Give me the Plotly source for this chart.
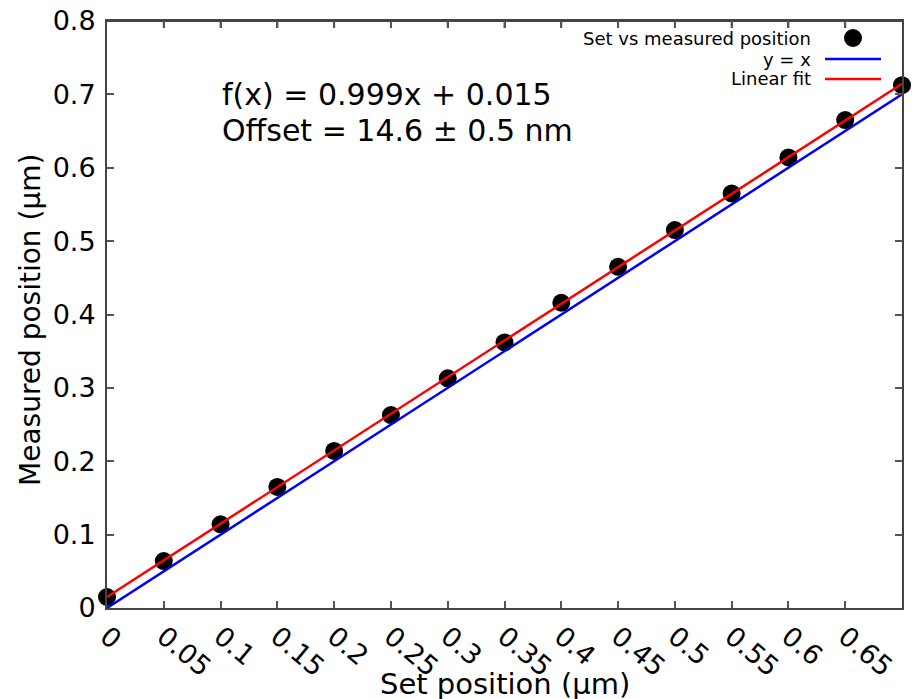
import plotly.graph_objects as go

# ---- data ----
set_position = [0.0, 0.05, 0.10, 0.15, 0.20, 0.25, 0.30, 0.35, 0.40, 0.45, 0.50, 0.55, 0.60, 0.65, 0.70]
measured_position = [0.015, 0.064, 0.114, 0.165, 0.214, 0.263, 0.313, 0.362, 0.416, 0.465, 0.515, 0.565, 0.614, 0.665, 0.7125]
fit_slope = 0.999
fit_intercept = 0.015
line_x = [0.0, 0.7]

x_tickvals = [0, 0.05, 0.1, 0.15, 0.2, 0.25, 0.3, 0.35, 0.4, 0.45, 0.5, 0.55, 0.6, 0.65]
x_ticktext = ["0", "0.05", "0.1", "0.15", "0.2", "0.25", "0.3", "0.35", "0.4", "0.45", "0.5", "0.55", "0.6", "0.65"]
y_tickvals = [0, 0.1, 0.2, 0.3, 0.4, 0.5, 0.6, 0.7, 0.8]
y_ticktext = ["0", "0.1", "0.2", "0.3", "0.4", "0.5", "0.6", "0.7", "0.8"]

legend_names = ["Set vs measured position", "y = x", "Linear fit"]
fit_label = "f(x) = 0.999x + 0.015"
offset_label = "Offset = 14.6 ± 0.5 nm"
x_title = "Set position (µm)"
y_title = "Measured position (µm)"

FONT = "DejaVu Sans"
W, H = 916, 699
PL, PR, PT, PB = 107, 902, 21, 608   # plot area in window pixels
L, T, R, B = PL, PT, W - PR, H - PB
pw = PR - PL
ph = PB - PT


def px(xp):
    return (xp - PL) / pw


def py(yp):
    return (PB - yp) / ph


fig = go.Figure()
fig.add_trace(go.Scatter(x=set_position, y=measured_position, mode="markers",
                         marker=dict(color="black", size=18), name=legend_names[0],
                         showlegend=False, cliponaxis=False))
fig.add_trace(go.Scatter(x=line_x, y=line_x, mode="lines",
                         line=dict(color="#0000ff", width=2.5), name=legend_names[1],
                         showlegend=False))
fig.add_trace(go.Scatter(x=line_x, y=[fit_slope * v + fit_intercept for v in line_x], mode="lines",
                         line=dict(color="#ff0000", width=2.5), name=legend_names[2],
                         showlegend=False))

axis_common = dict(showgrid=False, zeroline=False, showline=True, linecolor="#444444",
                   linewidth=2, mirror="ticks", ticks="inside", ticklen=7, tickwidth=2,
                   tickcolor="#555555", tickfont=dict(family=FONT, size=27, color="black"))

fig.update_xaxes(range=[0, 0.7], tickvals=x_tickvals, ticktext=x_ticktext, tickangle=40,
                 **axis_common)
fig.update_yaxes(range=[0, 0.8], tickvals=y_tickvals, ticktext=y_ticktext,
                 ticklabelstandoff=4, **axis_common)

annotations = [
    dict(text=fit_label, x=px(220), y=py(95), xanchor="left", yanchor="middle",
         font=dict(family=FONT, size=30, color="black")),
    dict(text=offset_label, x=px(220), y=py(130), xanchor="left", yanchor="middle",
         font=dict(family=FONT, size=30, color="black")),
    dict(text=x_title, x=px(505), y=py(684), xanchor="center", yanchor="middle",
         font=dict(family=FONT, size=29, color="black")),
    dict(text=y_title, x=px(30), y=py(320), xanchor="center", yanchor="middle", textangle=-90,
         font=dict(family=FONT, size=28, color="black")),
]
for name, yy in zip(legend_names, [38, 59, 79]):
    annotations.append(dict(text=name, x=px(813), y=py(yy), xanchor="right", yanchor="middle",
                            font=dict(family=FONT, size=18, color="black")))
for a in annotations:
    a.update(xref="paper", yref="paper", showarrow=False)

shapes = [
    # top frame line and top ticks
    dict(type="line", xref="paper", yref="paper", x0=0, x1=1, y0=1, y1=1,
         line=dict(color="#444444", width=2), layer="above"),
    dict(type="circle", xref="paper", yref="paper", xsizemode="pixel", ysizemode="pixel",
         xanchor=px(853), yanchor=py(38), x0=-9, x1=9, y0=-9, y1=9,
         fillcolor="black", line=dict(color="black", width=0)),
    dict(type="line", xref="paper", yref="paper", x0=px(825), x1=px(881), y0=py(59), y1=py(59),
         line=dict(color="#0000ff", width=2.5)),
    dict(type="line", xref="paper", yref="paper", x0=px(825), x1=px(881), y0=py(79), y1=py(79),
         line=dict(color="#ff0000", width=2.5)),
]
for tv in x_tickvals[1:]:
    shapes.append(dict(type="line", xref="x", yref="paper", ysizemode="pixel", yanchor=1,
                       x0=tv, x1=tv, y0=-7, y1=0, line=dict(color="#555555", width=2),
                       layer="above"))

fig.update_layout(width=W, height=H, margin=dict(l=L, r=R, t=T, b=B, autoexpand=False),
                  plot_bgcolor="white", paper_bgcolor="white", showlegend=False,
                  annotations=annotations, shapes=shapes,
                  font=dict(family=FONT, color="black"))

fig.write_html("out.html", config={"displayModeBar": False},
               post_script="document.body.style.margin='0';document.body.style.overflow='hidden';")
